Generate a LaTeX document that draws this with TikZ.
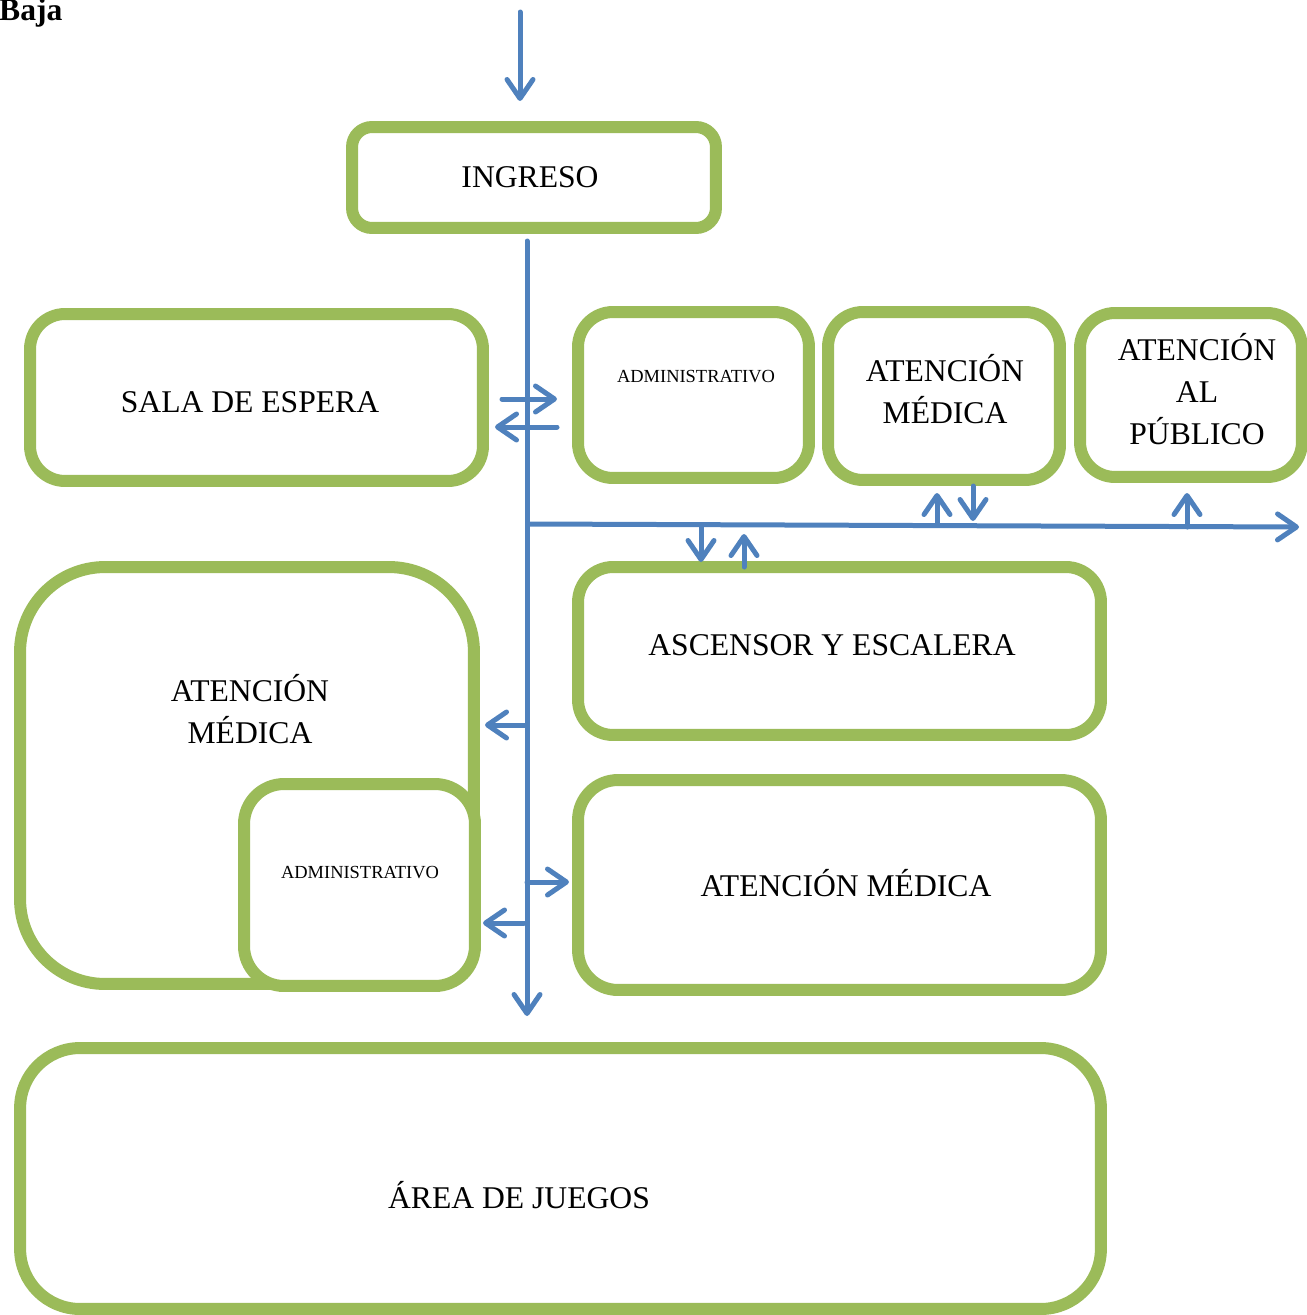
\documentclass[tikz,border=0pt]{standalone}
\usepackage{fontspec}
\setmainfont{Liberation Serif}
\usepackage{tikz}
\usetikzlibrary{arrows.meta}
\usetikzlibrary{calc}
\definecolor{verde}{HTML}{9BBB59}
\definecolor{azul}{HTML}{4F81BD}

\begin{document}
\begin{tikzpicture}[x=0.02cm,y=-0.02cm,
  box/.style={draw=verde,line width=0.24cm,rounded corners=0.6cm,fill=white,align=center,inner sep=0pt,font=\fontsize{18}{24}\selectfont},
  txt/.style={align=center,font=\fontsize{18}{24}\selectfont},
  chico/.style={font=\fontsize{10.5}{12}\selectfont},
  flow/.style={draw=azul,line width=0.1cm,line cap=round,-{Straight Barb[length=0.38cm,width=0.52cm,round]}}]
\useasboundingbox (0,0) rectangle (1306,1315);
\node[anchor=base west,font=\bfseries\fontsize{18}{20}\selectfont] (baja) at (-7,20) {Baja};
\node[box,minimum width=7.28cm,minimum height=2.02cm,rounded corners=0.4cm] (ingreso) at (534,177.5) {};
\node[txt] (tingreso) at (530,177) {INGRESO};
\node[box,minimum width=9.06cm,minimum height=3.34cm,rounded corners=0.7cm] (sala) at (256.5,397.5) {};
\node[txt] (tsala) at (250,402) {SALA DE ESPERA};
\node[box,minimum width=4.62cm,minimum height=3.32cm,rounded corners=0.7cm] (admin1) at (693.5,395) {};
\node[txt,chico] (tadmin1) at (696,377) {ADMINISTRATIVO};
\node[box,minimum width=4.64cm,minimum height=3.36cm,rounded corners=0.7cm] (atmed1) at (944,396) {};
\node[txt] (tatmed1) at (945,389) {ATENCIÓN\\MÉDICA};
\node[box,minimum width=4.44cm,minimum height=3.28cm,rounded corners=0.7cm] (atpub) at (1191,395) {};
\node[txt] (tatpub) at (1197,389) {ATENCIÓN\\AL\\PÚBLICO};
\node[box,minimum width=10.46cm,minimum height=3.36cm,rounded corners=0.7cm] (ascensor) at (839.5,651) {};
\node[txt] (tascensor) at (832,645) {ASCENSOR Y ESCALERA};
\node[box,minimum width=9.08cm,minimum height=8.34cm,rounded corners=1.7cm] (atmed2) at (247,775.5) {};
\node[txt] (tatmed2) at (250,709) {ATENCIÓN\\MÉDICA};
\node[box,minimum width=4.62cm,minimum height=4.04cm,rounded corners=0.8cm] (admin2) at (359.5,885) {};
\node[txt,chico] (tadmin2) at (360,873) {ADMINISTRATIVO};
\node[box,minimum width=10.46cm,minimum height=4.2cm,rounded corners=0.8cm] (atmed3) at (839.5,885) {};
\node[txt] (tatmed3) at (846,883) {ATENCIÓN MÉDICA};
\node[box,minimum width=21.62cm,minimum height=5.22cm,rounded corners=1.2cm] (juegos) at (560.5,1178.5) {};
\node[txt] (tjuegos) at (519,1195) {ÁREA DE JUEGOS};
\coordinate (in0) at (520,12);
\coordinate (in1) at (520,101);
\coordinate (sp0) at (527,241);
\coordinate (sp1) at (527,1016);
\coordinate (sa0) at (502,399);
\coordinate (sa1) at (557,399);
\coordinate (sb0) at (557,427);
\coordinate (sb1) at (495,427);
\coordinate (h0) at (530,524);
\coordinate (h1) at (1299,527);
\coordinate (d0) at (701,525);
\coordinate (d1) at (701,562);
\coordinate (u0) at (744,567);
\coordinate (u1) at (744,534);
\coordinate (e0) at (937,525);
\coordinate (e1) at (937,493);
\coordinate (f0) at (973,486);
\coordinate (f1) at (973,521);
\coordinate (g0) at (1187,527);
\coordinate (g1) at (1187,493);
\coordinate (l0) at (527,725);
\coordinate (l1) at (485,725);
\coordinate (r0) at (527,882);
\coordinate (r1) at (569,882);
\coordinate (m0) at (524,923);
\coordinate (m1) at (483,923);
\draw[flow] (in0) -- (in1);
\draw[flow] (sp0) -- (sp1);
\draw[flow] (sa0) -- (sa1);
\draw[flow] (sb0) -- (sb1);
\draw[flow] (h0) -- (h1);
\draw[flow] (d0) -- (d1);
\draw[flow] (u0) -- (u1);
\draw[flow] (e0) -- (e1);
\draw[flow] (f0) -- (f1);
\draw[flow] (g0) -- (g1);
\draw[flow] (l0) -- (l1);
\draw[flow] (r0) -- (r1);
\draw[flow] (m0) -- (m1);
\end{tikzpicture}
\end{document}
